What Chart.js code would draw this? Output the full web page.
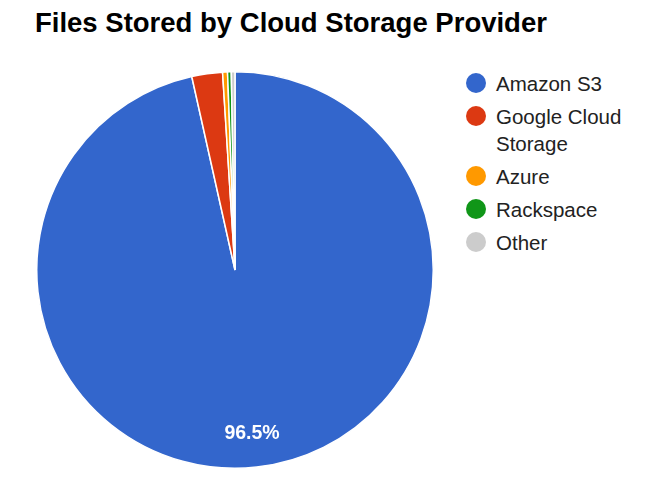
<!DOCTYPE html>
<html>
<head>
<meta charset="utf-8">
<script src="https://cdn.jsdelivr.net/npm/chart.js@4.4.0/dist/chart.umd.min.js"></script>
<style>
  body { margin: 0; background: #fff; font-family: "Liberation Sans", Arial, sans-serif; }
  #title { position: absolute; left: 35px; top: 7px; font-size: 27.5px; font-weight: bold; color: #000; }
  #wrap { position: absolute; left: 36px; top: 71px; width: 398px; height: 398px; }
  #legend { position: absolute; left: 466px; top: 70px; font-size: 20.5px; color: #222; }
  .item { position: relative; padding-left: 30px; line-height: 27px; margin-bottom: 6px; }
  .dot { position: absolute; left: 0; top: 3px; width: 20px; height: 20px; border-radius: 50%; }
</style>
</head>
<body>
<div id="title">Files Stored by Cloud Storage Provider</div>
<div id="wrap"><canvas id="myChart"></canvas></div>
<div id="legend"></div>
<script>
// Chart data
const labels = ['Amazon S3', 'Google Cloud Storage', 'Azure', 'Rackspace', 'Other'];
const legendLines = [['Amazon S3'], ['Google Cloud', 'Storage'], ['Azure'], ['Rackspace'], ['Other']];
const shares = [96.5, 2.5, 0.4, 0.3, 0.3];
const colors = ['#3366cc', '#dc3912', '#ff9900', '#109618', '#cccccc'];

// HTML legend so the long label can wrap like the original
const legend = document.getElementById('legend');
labels.forEach((l, i) => {
    const item = document.createElement('div');
    item.className = 'item';
    item.innerHTML = `<span class="dot" style="background:${colors[i]}"></span>` + legendLines[i].join('<br>');
    legend.appendChild(item);
});

// Percent label inside big slices
const sliceLabels = {
    id: 'sliceLabels',
    afterDatasetsDraw(chart) {
        const ctx = chart.ctx;
        const meta = chart.getDatasetMeta(0);
        const total = shares.reduce((a, b) => a + b, 0);
        meta.data.forEach((arc, i) => {
            const pct = shares[i] / total * 100;
            if (pct < 5) return;
            const { x, y, startAngle, endAngle, outerRadius } = arc.getProps(['x', 'y', 'startAngle', 'endAngle', 'outerRadius'], true);
            const mid = (startAngle + endAngle) / 2;
            const r = outerRadius * 0.83;
            ctx.save();
            ctx.fillStyle = '#fff';
            ctx.font = 'bold 19.5px "Liberation Sans", Arial, sans-serif';
            ctx.textAlign = 'center';
            ctx.textBaseline = 'middle';
            ctx.fillText(pct.toFixed(1) + '%', x + Math.cos(mid) * r - 1, y + Math.sin(mid) * r);
            ctx.restore();
        });
    }
};

const chart = new Chart(document.getElementById('myChart').getContext('2d'), {
    type: 'pie',
    data: {
        labels: labels,
        datasets: [{
            data: shares,
            backgroundColor: colors,
            borderColor: '#fff',
            borderWidth: 1.5
        }]
    },
    options: {
        responsive: true,
        maintainAspectRatio: false,
        animation: false,
        layout: { padding: 0 },
        plugins: {
            legend: { display: false },
            tooltip: { enabled: false }
        }
    },
    plugins: [sliceLabels]
});
</script>
</body>
</html>
